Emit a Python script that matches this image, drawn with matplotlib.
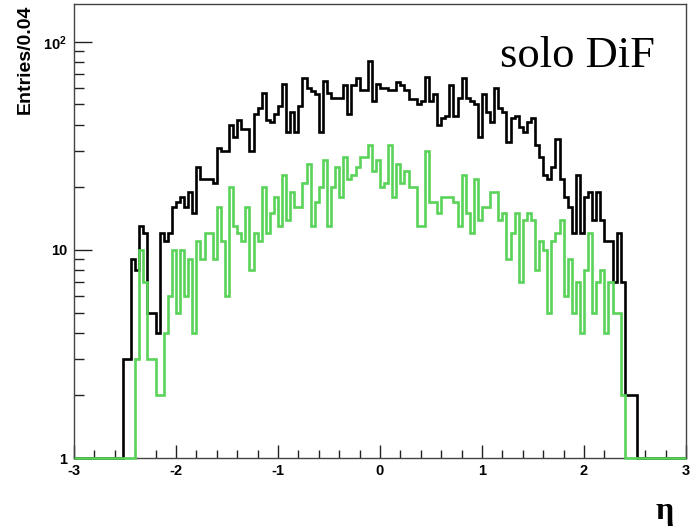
import numpy as np
import matplotlib
matplotlib.use("Agg")
import matplotlib.pyplot as plt
from matplotlib.ticker import FixedLocator, FixedFormatter, NullFormatter, MultipleLocator

plt.rcParams['mathtext.fontset'] = 'custom'
plt.rcParams['mathtext.rm'] = 'Liberation Sans:bold'
plt.rcParams['mathtext.bf'] = 'Liberation Sans:bold'
plt.rcParams['axes.unicode_minus'] = False

# ---- data: 150 bins of width 0.04 from -3 to 3 ----
eta_min, eta_max, bin_w = -3.0, 3.0, 0.04
edges = np.round(np.arange(eta_min, eta_max + bin_w / 2, bin_w), 6)

all_entries = [0] * 12 + [
    3, 3, 9, 8, 13, 12, 5, 5, 4, 12, 11, 12, 16, 17, 18, 16, 19, 15, 25, 22,
    22, 22, 21, 31, 30, 30, 40, 35, 42, 38, 38, 30, 45, 48, 57, 42, 41, 45, 49, 63,
    37, 46, 37, 49, 67, 60, 58, 56, 37, 65, 57, 54, 54, 54, 62, 45, 62, 67, 59, 59,
    81, 52, 63, 60, 60, 59, 59, 64, 62, 59, 53, 53, 50, 52, 68, 52, 56, 40, 43, 44,
    62, 44, 54, 67, 54, 52, 50, 35, 56, 46, 41, 60, 48, 46, 33, 43, 44, 39, 37, 41,
    43, 32, 28, 23, 22, 25, 34, 22, 18, 16, 12, 23, 12, 18, 19, 14, 19, 14, 11, 11,
    7, 12, 7, 2, 2, 2] + [0] * 12

solo_dif = [0] * 15 + [
    3, 10, 7, 3, 3, 2, 2, 4, 6, 10, 5, 10, 6, 9, 4, 11, 9, 12, 12, 9,
    16, 11, 6, 20, 13, 12, 11, 16, 8, 12, 11, 20, 12, 15, 18, 13, 23, 14, 19, 16,
    16, 21, 26, 13, 17, 20, 27, 13, 20, 25, 18, 28, 22, 23, 25, 28, 28, 32, 24, 27,
    20, 21, 32, 18, 26, 21, 24, 20, 20, 13, 13, 30, 17, 17, 15, 18, 18, 18, 17, 13,
    23, 15, 12, 22, 14, 16, 16, 19, 19, 14, 15, 9, 12, 15, 7, 14, 15, 14, 8, 11,
    10, 5, 11, 12, 14, 6, 9, 5, 7, 4, 8, 12, 5, 7, 8, 4, 7, 5, 5, 2] + [0] * 15

y_ticks = [1, 10, 100]
y_tick_labels = ['1', '10', r'$\mathrm{10^{2}}$']
x_ticks = [-3, -2, -1, 0, 1, 2, 3]
ylim = (1.0, 152.0)

# ---- figure ----
fig = plt.figure(figsize=(6.98, 5.32), dpi=100)
ax = fig.add_axes([74 / 698, 1 - 458 / 532, 612 / 698, 454 / 532])

def for_log(v):
    v = np.asarray(v, dtype=float)
    return np.where(v > 0, v, ylim[0])

ax.stairs(for_log(all_entries), edges, color='black', lw=1.9, baseline=None,
          clip_on=False, zorder=3)
ax.stairs(for_log(solo_dif), edges, color='#5ad35a', lw=1.9, baseline=None,
          clip_on=False, zorder=4)

ax.set_yscale('log')
ax.set_xlim(eta_min, eta_max)
ax.set_ylim(*ylim)

ax.xaxis.set_major_locator(FixedLocator(x_ticks))
ax.xaxis.set_minor_locator(MultipleLocator(0.2))
ax.yaxis.set_major_locator(FixedLocator(y_ticks))
ax.yaxis.set_major_formatter(FixedFormatter(y_tick_labels))
minor_y = [m * 10 ** k for k in range(0, 3) for m in range(2, 10) if m * 10 ** k < ylim[1]]
ax.yaxis.set_minor_locator(FixedLocator(minor_y))
ax.yaxis.set_minor_formatter(NullFormatter())

tick_font = dict(family='Liberation Sans', weight='bold', size=10.5)
ax.tick_params(axis='x', which='major', direction='in', length=9.5, width=1.0,
               pad=4, top=False, color='#222222')
ax.tick_params(axis='x', which='minor', direction='in', length=5.5, width=1.0,
               top=False, color='#222222')
ax.tick_params(axis='y', which='major', direction='in', length=13, width=1.0,
               pad=5, right=False, color='#222222')
ax.tick_params(axis='y', which='minor', direction='in', length=7, width=1.0,
               right=False, color='#222222')
for lab in ax.get_xticklabels() + ax.get_yticklabels():
    lab.set_fontproperties(matplotlib.font_manager.FontProperties(**tick_font))

for s in ax.spines.values():
    s.set_linewidth(1.0)
    s.set_color('#444444')

fig.text(25 / 698, 1 - 5 / 532, 'Entries/0.04', rotation=90, ha='center', va='top',
         family='Liberation Sans', weight='bold', size=14)
fig.text(665 / 698, 1 - 519 / 532, 'η', ha='center', va='baseline',
         family='Liberation Serif', weight='bold', size=23)
fig.text(655 / 698, 1 - 67 / 532, 'solo DiF', ha='right', va='baseline',
         family='Liberation Serif', size=32)

fig.savefig('out.png', dpi=100)
